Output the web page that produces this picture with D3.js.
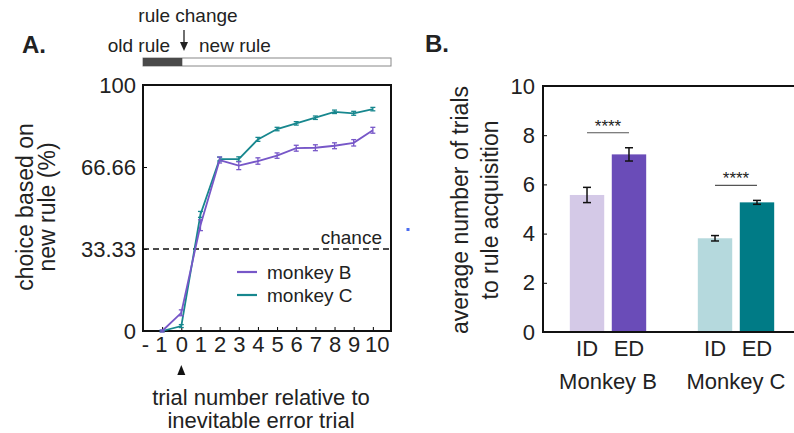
<!DOCTYPE html>
<html>
<head>
<meta charset="utf-8">
<script src="https://cdn.jsdelivr.net/npm/d3@7"></script>
<style>
  body { margin: 0; background: #fff; }
  svg { display: block; font-family: "Liberation Sans", Arial, Helvetica, sans-serif; }
  text { fill: #222; }
</style>
</head>
<body>
<svg width="794" height="433"></svg>
<script>
// ---- data ----
const trials = [-1, 0, 1, 2, 3, 4, 5, 6, 7, 8, 9, 10];
const monkeyB = [0, 7.4, 43, 69.5, 67.2, 69.1, 71.3, 74.3, 74.5, 75.3, 76.5, 81.6];
const monkeyBErr = [0.4, 1.2, 2.2, 1.2, 1.6, 1.3, 1.1, 1.2, 1.2, 1.2, 1.3, 1.2];
const monkeyC = [0, 2.0, 47.4, 69.9, 69.9, 77.9, 82.1, 84.4, 86.7, 89.1, 88.5, 90.2];
const monkeyCErr = [0.3, 0.6, 1.2, 0.8, 0.9, 0.8, 0.7, 0.7, 0.7, 0.7, 0.8, 0.7];
const yTicksA = [0, 33.33, 66.66, 100];
const chance = 33.33;

const groups = ['Monkey B', 'Monkey C'];
const conditions = ['ID', 'ED'];
const trialsToRule = [
  { group: 'Monkey B', cond: 'ID', value: 5.57, err: 0.31 },
  { group: 'Monkey B', cond: 'ED', value: 7.22, err: 0.27 },
  { group: 'Monkey C', cond: 'ID', value: 3.81, err: 0.11 },
  { group: 'Monkey C', cond: 'ED', value: 5.27, err: 0.08 }
];
const sigLevel = [{ group: 'Monkey B', y: 8.1 }, { group: 'Monkey C', y: 5.96 }];
const yTicksB = [0, 2, 4, 6, 8, 10];

const lineColor = { B: '#7757c8', C: '#17878e' };
const barColor = { 'Monkey B': { ID: '#d4c9e7', ED: '#6a4cb8' }, 'Monkey C': { ID: '#b5d9dd', ED: '#007b86' } };

const svg = d3.select('svg');

// ================= panel A =================
const A = { left: 143, right: 391, top: 85, bottom: 331 };
const x = d3.scaleLinear().domain([-2, 11]).range([A.left, A.right + 1]);
const y = d3.scaleLinear().domain([0, 100]).range([A.bottom, A.top]);

const gA = svg.append('g');

svg.append('text').attr('x', 22).attr('y', 53)
  .style('font-weight', 'bold').style('font-size', '24px').attr('fill', '#111').text('A.');

// rule bar
gA.append('rect').attr('x', A.left).attr('y', 58).attr('width', A.right - A.left).attr('height', 8)
  .attr('fill', '#fff').attr('stroke', '#888').attr('stroke-width', 1);
gA.append('rect').attr('x', A.left).attr('y', 58).attr('width', x(0) + 1 - A.left).attr('height', 8)
  .attr('fill', '#4a4a4a');
gA.append('text').attr('x', 188).attr('y', 22).attr('text-anchor', 'middle').style('font-size', '19px').text('rule change');
gA.append('text').attr('x', 170).attr('y', 52).attr('text-anchor', 'end').style('font-size', '19px').text('old rule');
gA.append('text').attr('x', 199).attr('y', 52).style('font-size', '19px').text('new rule');
gA.append('line').attr('x1', 184).attr('x2', 184).attr('y1', 30).attr('y2', 44).attr('stroke', '#222').attr('stroke-width', 1.3);
gA.append('path').attr('d', 'M180,42 L188,42 L184,51 Z').attr('fill', '#222');

// axes
const yAxisA = d3.axisLeft(y).tickValues(yTicksA).tickFormat(d => d === 0 ? '0' : d === 100 ? '100' : d3.format('.2f')(d))
  .tickSizeInner(-4).tickSizeOuter(0).tickPadding(7);
gA.append('g').attr('transform', `translate(${A.left},0)`).call(yAxisA)
  .call(g => g.selectAll('text').style('font-size', '22px').attr('fill', '#222'))
  .call(g => g.select('.domain').remove());

const xAxisA = d3.axisBottom(x).tickValues(trials).tickFormat(d => d === -1 ? '- 1' : d)
  .tickSizeInner(-4).tickSizeOuter(0).tickPadding(5);
gA.append('g').attr('transform', `translate(0,${A.bottom})`).call(xAxisA)
  .call(g => g.selectAll('text').style('font-size', '22px').attr('fill', '#222'))
  .call(g => g.selectAll('.tick').filter(d => d === -1).select('text').attr('dx', -8))
  .call(g => g.selectAll('.tick').filter(d => d === 10).select('text').attr('dx', 4))
  .call(g => g.select('.domain').remove());

gA.append('rect').attr('x', A.left).attr('y', A.top).attr('width', A.right - A.left).attr('height', A.bottom - A.top)
  .attr('fill', 'none').attr('stroke', '#111').attr('stroke-width', 2);

// chance
gA.append('line').attr('x1', A.left).attr('x2', A.right).attr('y1', y(chance)).attr('y2', y(chance))
  .attr('stroke', '#111').attr('stroke-width', 1.6).attr('stroke-dasharray', '6,4');
gA.append('text').attr('x', 382).attr('y', y(chance) - 5).attr('text-anchor', 'end').style('font-size', '19px').text('chance');

// lines + error bars
const series = [
  { key: 'C', vals: monkeyC, errs: monkeyCErr },
  { key: 'B', vals: monkeyB, errs: monkeyBErr }
];
const line = d3.line().x(d => x(d.t)).y(d => y(d.v));
series.forEach(s => {
  const pts = trials.map((t, i) => ({ t, v: s.vals[i], e: s.errs[i] }));
  gA.append('path').datum(pts).attr('d', line).attr('fill', 'none')
    .attr('stroke', lineColor[s.key]).attr('stroke-width', 1.8);
  const eb = gA.append('g').attr('stroke', lineColor[s.key]).attr('stroke-width', 1.3);
  pts.forEach(p => {
    eb.append('line').attr('x1', x(p.t)).attr('x2', x(p.t)).attr('y1', y(p.v - p.e)).attr('y2', y(p.v + p.e));
    eb.append('line').attr('x1', x(p.t) - 2.5).attr('x2', x(p.t) + 2.5).attr('y1', y(p.v - p.e)).attr('y2', y(p.v - p.e));
    eb.append('line').attr('x1', x(p.t) - 2.5).attr('x2', x(p.t) + 2.5).attr('y1', y(p.v + p.e)).attr('y2', y(p.v + p.e));
  });
});

// legend
[['B', 'monkey B', 272], ['C', 'monkey C', 295]].forEach(([k, label, ly]) => {
  gA.append('line').attr('x1', 237).attr('x2', 257).attr('y1', ly).attr('y2', ly)
    .attr('stroke', lineColor[k]).attr('stroke-width', 2.2);
  gA.append('text').attr('x', 267).attr('y', ly + 7).style('font-size', '19px').text(label);
});

// y label
gA.append('text').attr('transform', 'translate(33,207) rotate(-90)').attr('text-anchor', 'middle')
  .style('font-size', '23px').text('choice based on');
gA.append('text').attr('transform', 'translate(55,207) rotate(-90)').attr('text-anchor', 'middle')
  .style('font-size', '23px').text('new rule (%)');

// triangle + x label
gA.append('path').attr('d', `M${x(0) - 4},375 L${x(0) + 4},375 L${x(0)},365 Z`).attr('fill', '#111');
gA.append('text').attr('x', 261).attr('y', 405).attr('text-anchor', 'middle').style('font-size', '22px').text('trial number relative to');
gA.append('text').attr('x', 261).attr('y', 428).attr('text-anchor', 'middle').style('font-size', '22px').text('inevitable error trial');

// ================= panel B =================
const B = { left: 543, right: 796, top: 86, bottom: 332 };
const x0 = d3.scaleBand().domain(groups).range([544, 800]);
const x1 = d3.scaleBand().domain(conditions).range([0, x0.bandwidth()]).paddingInner(0.18).paddingOuter(0.615);
const yB = d3.scaleLinear().domain([0, 10]).range([B.bottom, B.top]);

const gB = svg.append('g');

svg.append('text').attr('x', 425).attr('y', 52)
  .style('font-weight', 'bold').style('font-size', '24px').attr('fill', '#111').text('B.');

// stray blue mark
gB.append('rect').attr('x', 406.5).attr('y', 228).attr('width', 3).attr('height', 3).attr('fill', '#4a6cf0');

gB.selectAll('.bar').data(trialsToRule).enter().append('rect')
  .attr('class', 'bar')
  .attr('x', d => x0(d.group) + x1(d.cond))
  .attr('width', x1.bandwidth())
  .attr('y', d => yB(d.value))
  .attr('height', d => yB(0) - yB(d.value))
  .attr('fill', d => barColor[d.group][d.cond]);

const ebB = gB.append('g').attr('stroke', '#111').attr('stroke-width', 1.5);
trialsToRule.forEach(d => {
  const cx = x0(d.group) + x1(d.cond) + x1.bandwidth() / 2;
  ebB.append('line').attr('x1', cx).attr('x2', cx).attr('y1', yB(d.value - d.err)).attr('y2', yB(d.value + d.err));
  ebB.append('line').attr('x1', cx - 4).attr('x2', cx + 4).attr('y1', yB(d.value - d.err)).attr('y2', yB(d.value - d.err));
  ebB.append('line').attr('x1', cx - 4).attr('x2', cx + 4).attr('y1', yB(d.value + d.err)).attr('y2', yB(d.value + d.err));
});

sigLevel.forEach(s => {
  const xa = x0(s.group) + x1('ID') + x1.bandwidth() / 2;
  const xb = x0(s.group) + x1('ED') + x1.bandwidth() / 2;
  gB.append('line').attr('x1', xa).attr('x2', xb).attr('y1', yB(s.y)).attr('y2', yB(s.y))
    .attr('stroke', '#555').attr('stroke-width', 1.2);
  gB.append('text').attr('x', (xa + xb) / 2).attr('y', yB(s.y) - 1).attr('text-anchor', 'middle')
    .style('font-size', '17px').text('****');
});

const yAxisB = d3.axisLeft(yB).tickValues(yTicksB).tickSizeInner(-4).tickSizeOuter(0).tickPadding(8);
gB.append('g').attr('transform', `translate(${B.left},0)`).call(yAxisB)
  .call(g => g.selectAll('text').style('font-size', '22px').attr('fill', '#222'))
  .call(g => g.select('.domain').remove());

gB.append('rect').attr('x', B.left).attr('y', B.top).attr('width', B.right - B.left).attr('height', B.bottom - B.top)
  .attr('fill', 'none').attr('stroke', '#111').attr('stroke-width', 2);

trialsToRule.forEach(d => {
  gB.append('text').attr('x', x0(d.group) + x1(d.cond) + x1.bandwidth() / 2).attr('y', 356)
    .attr('text-anchor', 'middle').style('font-size', '22px').text(d.cond);
});
groups.forEach(gname => {
  gB.append('text').attr('x', x0(gname) + x0.bandwidth() / 2).attr('y', 389)
    .attr('text-anchor', 'middle').style('font-size', '22px').text(gname);
});

gB.append('text').attr('transform', 'translate(468,210) rotate(-90)').attr('text-anchor', 'middle')
  .style('font-size', '23px').text('average number of trials');
gB.append('text').attr('transform', 'translate(498,210) rotate(-90)').attr('text-anchor', 'middle')
  .style('font-size', '23px').text('to rule acquisition');
</script>
</body>
</html>
